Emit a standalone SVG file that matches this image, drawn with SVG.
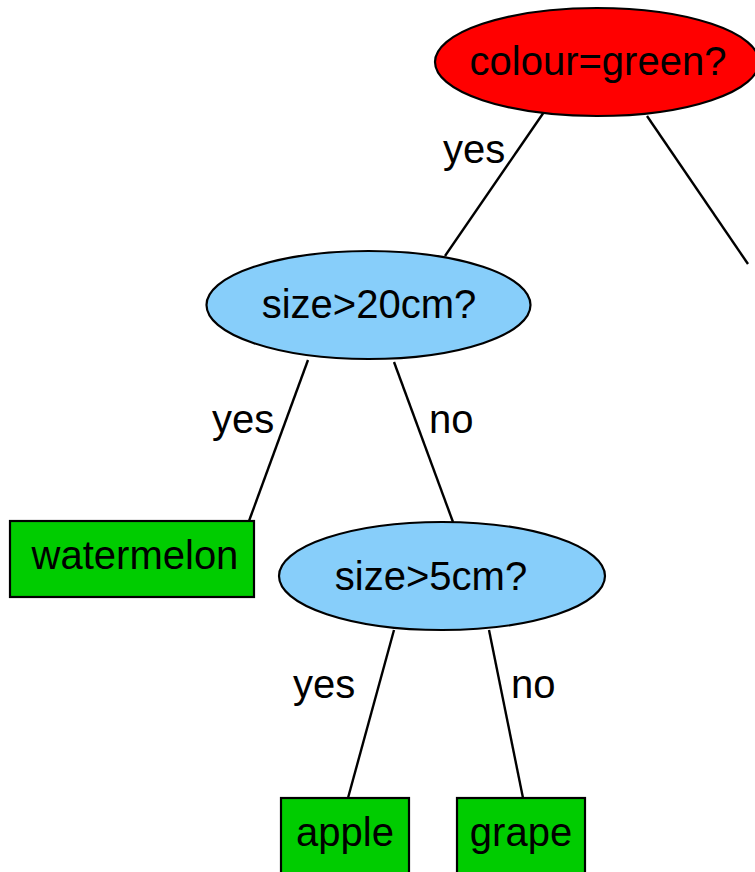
<svg xmlns="http://www.w3.org/2000/svg" width="755" height="872" viewBox="0 0 755 872">
<style>
text{font-family:"Liberation Sans",Arial,Helvetica,sans-serif;font-size:40px;fill:#000}
.n text{text-anchor:middle}
.q{fill:#87cefa;stroke:#000;stroke-width:2.2}
.r{fill:#ff0000;stroke:#000;stroke-width:2.2}
.l{fill:#00cc00;stroke:#000;stroke-width:2.2}
.e line{stroke:#000;stroke-width:2.4}
</style>
<rect width="755" height="872" fill="#fff"/>
<g id="edges" class="e">
<line x1="544" y1="112" x2="445" y2="256"/>
<line x1="647" y1="116" x2="748" y2="264"/>
<line x1="308" y1="360" x2="249" y2="521"/>
<line x1="394" y1="362" x2="453" y2="522"/>
<line x1="394" y1="630" x2="348" y2="798"/>
<line x1="489" y1="630" x2="523" y2="798"/>
<text x="443" y="163">yes</text>
<text x="212" y="433">yes</text>
<text x="429" y="433">no</text>
<text x="293" y="698">yes</text>
<text x="511" y="698">no</text>
</g>
<g id="n_colour" class="n"><ellipse class="r" cx="597" cy="62" rx="162" ry="54"/><text x="598" y="75">colour=green?</text></g>
<g id="n_size20" class="n"><ellipse class="q" cx="368.5" cy="305" rx="162" ry="54"/><text x="369" y="318">size&gt;20cm?</text></g>
<g id="n_watermelon" class="n"><rect class="l" x="10" y="521" width="244" height="76"/><text x="135" y="569">watermelon</text></g>
<g id="n_size5" class="n"><ellipse class="q" cx="442" cy="576" rx="163" ry="54"/><text x="431" y="590">size&gt;5cm?</text></g>
<g id="n_apple" class="n"><rect class="l" x="281" y="798" width="128" height="90"/><text x="345" y="846">apple</text></g>
<g id="n_grape" class="n"><rect class="l" x="457" y="798" width="128" height="90"/><text x="521" y="846">grape</text></g>
</svg>
